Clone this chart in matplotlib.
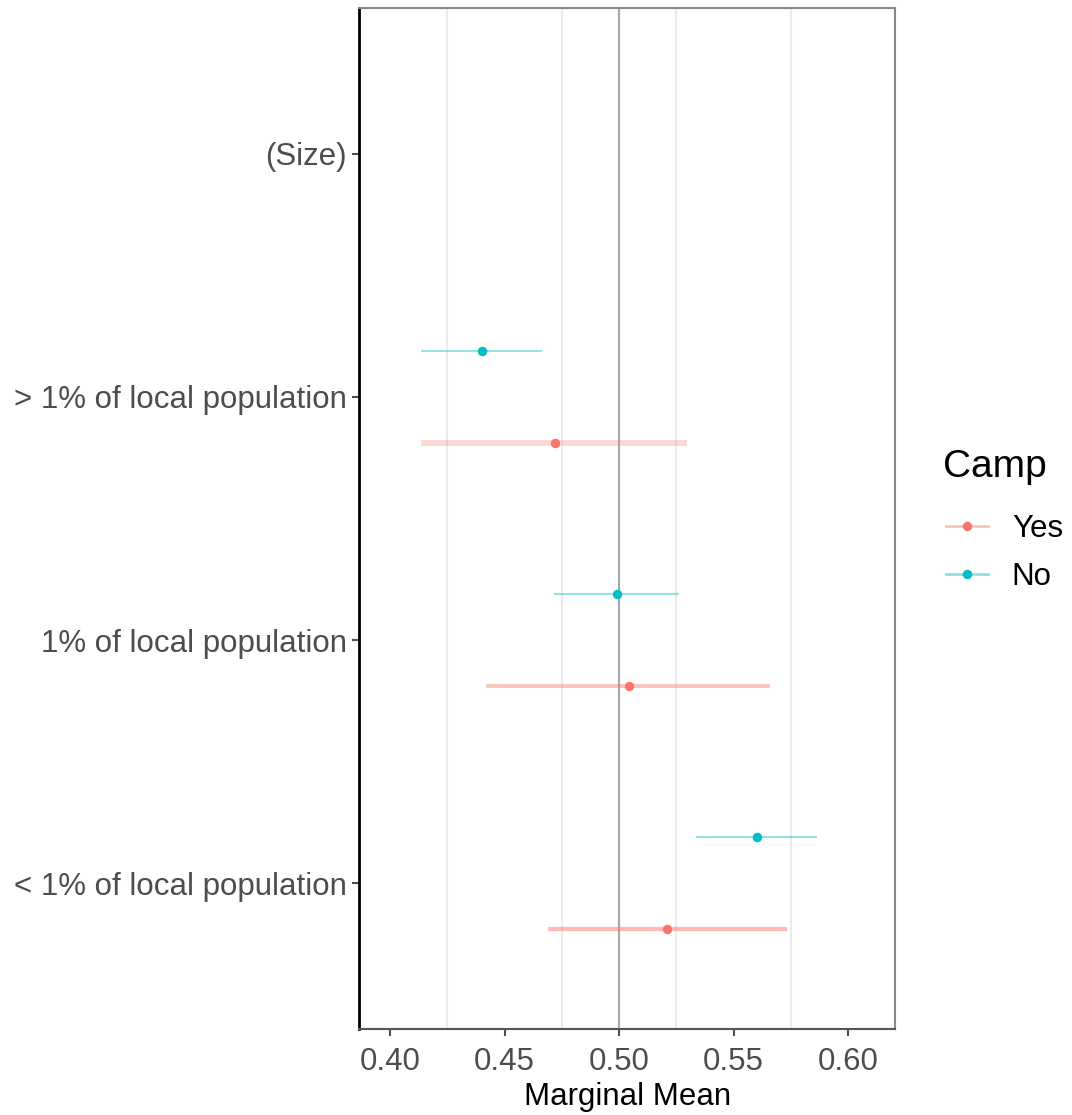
import matplotlib.pyplot as plt
from matplotlib.lines import Line2D
from matplotlib.legend_handler import HandlerTuple

plt.rcParams['font.family'] = ['Liberation Sans', 'DejaVu Sans']

# levels, bottom to top
levels = ['< 1% of local population', '1% of local population',
          '> 1% of local population', '(Size)']

# marginal means and 95% intervals per level ((Size) has no estimate)
yes_mm = [0.5211, 0.5044, 0.4722]
yes_lo = [0.4691, 0.4421, 0.4137]
yes_hi = [0.5731, 0.5658, 0.5296]

no_mm = [0.5604, 0.4990, 0.4402]
no_lo = [0.5336, 0.4717, 0.4137]
no_hi = [0.5865, 0.5262, 0.4663]

xticks = [0.40, 0.45, 0.50, 0.55, 0.60]
minor_grid = [0.425, 0.475, 0.525, 0.575]

yes_col = '#F8766D'
no_col = '#00BFC4'
# interval line look for the Yes group, per level
yes_alpha = [0.5, 0.42, 0.28]
yes_lw = [3.0, 3.0, 4.3]

fs = 22.5

fig = plt.figure(figsize=(10.72, 11.15), dpi=100)
ax = fig.add_axes([0.335, 0.077, 0.500, 0.916])

for g in minor_grid:
    ax.axvline(g, color='#EBEBEB', lw=1.5, zorder=0)
ax.axvline(0.5, color='#A9A9A9', lw=1.6, zorder=1)

for i in range(len(yes_mm)):
    y = i + 1
    ax.plot([yes_lo[i], yes_hi[i]], [y - 0.19, y - 0.19], color=yes_col,
            alpha=yes_alpha[i], lw=yes_lw[i], solid_capstyle='butt', zorder=2)
    ax.plot(yes_mm[i], y - 0.19, 'o', color=yes_col, ms=6.8, mew=0, zorder=3)
    ax.plot([no_lo[i], no_hi[i]], [y + 0.19, y + 0.19], color=no_col,
            alpha=0.42, lw=1.5, solid_capstyle='butt', zorder=2)
    ax.plot(no_mm[i], y + 0.19, 'o', color=no_col, ms=6.8, mew=0, zorder=3)

ax.set_xlim(0.3865, 0.6205)
ax.set_ylim(0.4, 4.6)
ax.set_yticks(range(1, len(levels) + 1))
ax.set_yticklabels(levels)
ax.set_xticks(xticks)
ax.set_xticklabels([f'{t:.2f}' for t in xticks])
ax.tick_params(axis='both', labelsize=fs, labelcolor='#4D4D4D', color='#4D4D4D',
               length=5, width=1.5, pad=4)
ax.tick_params(axis='x', pad=7.5)
ax.set_xlabel('Marginal Mean', fontsize=fs, color='black', labelpad=4)

ax.spines['left'].set_color('black')
ax.spines['left'].set_linewidth(2)
ax.spines['bottom'].set_color('#555555')
ax.spines['bottom'].set_linewidth(1.5)
for s in ('top', 'right'):
    ax.spines[s].set_color('#888888')
    ax.spines[s].set_linewidth(1.5)

# legend: title as its own text, keys as line + point
fig.text(943 / 1072, 1 - 467 / 1115, 'Camp', fontsize=28, va='center', ha='left')
h_yes = (Line2D([], [], color=yes_col, alpha=0.45, lw=2),
         Line2D([], [], color=yes_col, marker='o', ms=6.8, mew=0, lw=0))
h_no = (Line2D([], [], color=no_col, alpha=0.45, lw=2),
        Line2D([], [], color=no_col, marker='o', ms=6.8, mew=0, lw=0))
leg = fig.legend([h_yes, h_no], ['Yes', 'No'],
                 handler_map={tuple: HandlerTuple(ndivide=1, pad=0)},
                 loc='upper left', bbox_to_anchor=(0.871, 0.5505),
                 frameon=False, fontsize=fs,
                 handlelength=1.33, handletextpad=0.77, labelspacing=0.57,
                 borderaxespad=0)

fig.savefig('out.png', dpi=100)
